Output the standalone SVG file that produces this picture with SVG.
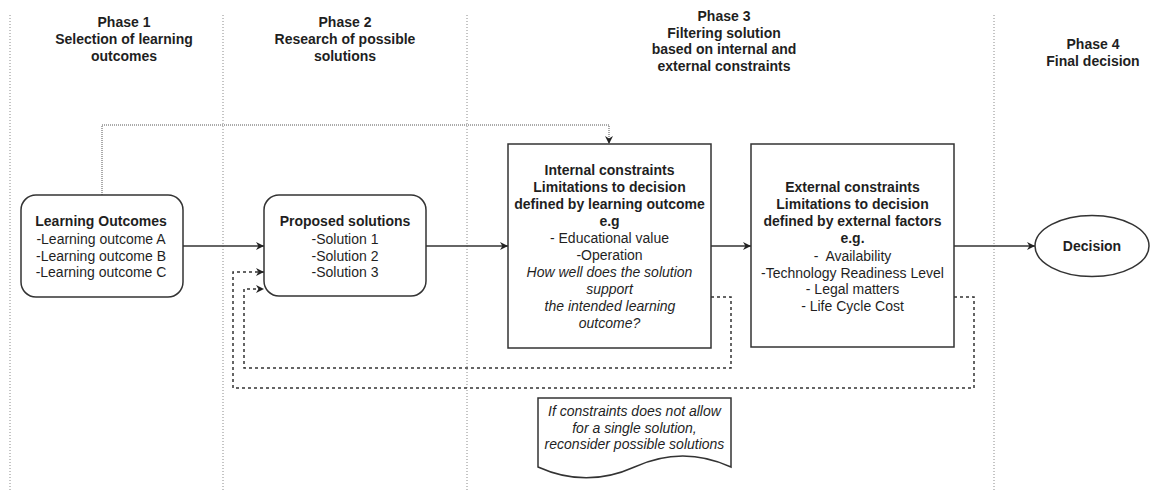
<svg xmlns="http://www.w3.org/2000/svg" width="1151" height="490" viewBox="0 0 1151 490">
<style>
text{font-family:"Liberation Sans",Arial,sans-serif;font-size:14px;fill:#1f1f1f;text-anchor:middle;dominant-baseline:central}
.b{font-weight:bold}
.i{font-style:italic}
.box{fill:#fff;stroke:#333;stroke-width:1.5}
.sep{stroke:#8a8a8a;stroke-width:1;stroke-dasharray:1 2;fill:none}
.solid{stroke:#333;stroke-width:1.4;fill:none}
.dot{stroke:#555;stroke-width:1;stroke-dasharray:1 1;fill:none}
.dash{stroke:#333;stroke-width:1.5;stroke-dasharray:3 3;fill:none}
</style>
<defs>
<marker id="arr" viewBox="0 0 10 10" refX="10" refY="5" markerWidth="9" markerHeight="8" markerUnits="userSpaceOnUse" orient="auto">
<path d="M0,0 L10,5 L0,10 L3,5 z" fill="#222"/>
</marker>
</defs>
<rect width="1151" height="490" fill="#fff"/>
<g id="phases">
<line class="sep" x1="10" y1="15" x2="10" y2="490"/>
<line class="sep" x1="223" y1="15" x2="223" y2="490"/>
<line class="sep" x1="467" y1="15" x2="467" y2="490"/>
<line class="sep" x1="994" y1="15" x2="994" y2="490"/>
<g id="phase1"><text class="b" x="124" y="22">Phase 1</text><text class="b" x="124" y="39">Selection of learning</text><text class="b" x="124" y="56">outcomes</text></g>
<g id="phase2"><text class="b" x="345" y="22">Phase 2</text><text class="b" x="345" y="39">Research of possible</text><text class="b" x="345" y="56">solutions</text></g>
<g id="phase3"><text class="b" x="724" y="16">Phase 3</text><text class="b" x="724" y="32.5">Filtering solution</text><text class="b" x="724" y="49">based on internal and</text><text class="b" x="724" y="65.5">external constraints</text></g>
<g id="phase4"><text class="b" x="1093" y="44">Phase 4</text><text class="b" x="1093" y="60.5">Final decision</text></g>
</g>
<g id="connectors">
<path class="solid" d="M183,246 H264" marker-end="url(#arr)"/>
<path class="solid" d="M426,246 H508" marker-end="url(#arr)"/>
<path class="solid" d="M711,246 H751" marker-end="url(#arr)"/>
<path class="solid" d="M954,246 H1035" marker-end="url(#arr)"/>
<path class="dot" d="M102,195 V125 H609 V144" marker-end="url(#arr)"/>
<path class="dash" d="M711,297 H731 V368 H244 V289 H264" marker-end="url(#arr)"/>
<path class="dash" d="M954,297 H974 V388 H233 V272 H264" marker-end="url(#arr)"/>
</g>
<g id="learning-outcomes">
<rect class="box" x="21" y="195" width="162" height="102" rx="15"/>
<text class="b" x="101" y="221">Learning Outcomes</text>
<text x="101" y="238.5">-Learning outcome A</text>
<text x="101" y="255.5">-Learning outcome B</text>
<text x="101" y="272">-Learning outcome C</text>
</g>
<g id="proposed-solutions">
<rect class="box" x="264" y="195" width="162" height="101" rx="15"/>
<text class="b" x="345" y="221">Proposed solutions</text>
<text x="345" y="238.5">-Solution 1</text>
<text x="345" y="255.5">-Solution 2</text>
<text x="345" y="272">-Solution 3</text>
</g>
<g id="internal-constraints">
<rect class="box" x="508" y="144" width="203" height="204"/>
<text class="b" x="609.5" y="170">Internal constraints</text>
<text class="b" x="609.5" y="187">Limitations to decision</text>
<text class="b" x="609.5" y="204">defined by learning outcome</text>
<text class="b" x="609.5" y="221">e.g</text>
<text x="609.5" y="238">- Educational value</text>
<text x="609.5" y="255">-Operation</text>
<text class="i" x="609.5" y="272">How well does the solution</text>
<text class="i" x="609.5" y="289">support</text>
<text class="i" x="610" y="306">the intended learning</text>
<text class="i" x="609.5" y="323">outcome?</text>
</g>
<g id="external-constraints">
<rect class="box" x="751" y="144" width="203" height="203"/>
<text class="b" x="852.5" y="187">External constraints</text>
<text class="b" x="852.5" y="204">Limitations to decision</text>
<text class="b" x="852.5" y="221">defined by external factors</text>
<text class="b" x="852.5" y="238">e.g.</text>
<text x="852.5" y="255.5" xml:space="preserve">-  Availability</text>
<text x="852.5" y="272.5">-Technology Readiness Level</text>
<text x="852.5" y="289">- Legal matters</text>
<text x="852.5" y="306">- Life Cycle Cost</text>
</g>
<g id="decision">
<ellipse class="box" cx="1092" cy="246" rx="57" ry="30.5"/>
<text class="b" x="1092" y="246">Decision</text>
</g>
<g id="note">
<path class="box" d="M538,398 H731 V467 Q682.75,445 634.5,467 Q586.25,488.7 538,467 Z"/>
<text class="i" x="634.5" y="411">If constraints does not allow</text>
<text class="i" x="634.5" y="427.5">for a single solution,</text>
<text class="i" x="634.5" y="444">reconsider possible solutions</text>
</g>
</svg>
